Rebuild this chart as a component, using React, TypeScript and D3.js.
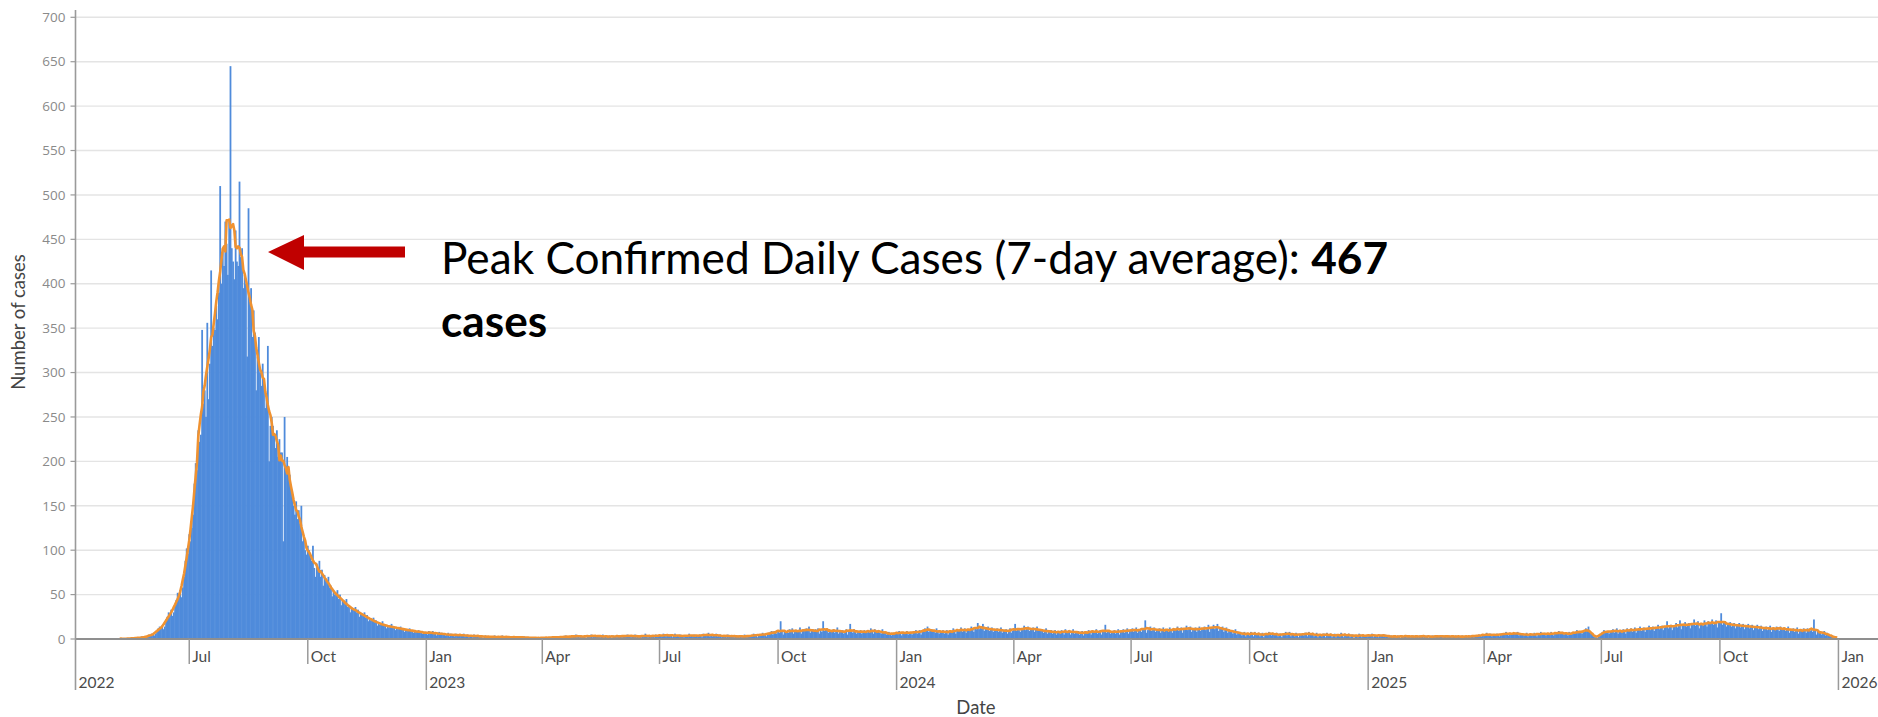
import React from "react";
import * as d3 from "d3";

// ---- Data (daily confirmed cases) ----
// Daily counts starting 2022-05-08
const cases2022 = [
  0,1,0,0,1,0,0,
  0,1,1,0,2,1,0,
  1,2,1,3,2,1,2,
  2,3,5,4,6,5,4,
  6,9,12,14,13,15,11,
  14,22,25,30,28,33,26,
  30,38,44,52,48,55,47,
  58,70,88,102,96,118,110,
  125,140,175,198,190,235,222,
  230,348,265,280,250,356,270,
  310,415,330,350,348,375,360,
  390,510,400,440,420,470,445,
  410,470,645,440,425,405,460,
  425,420,515,430,440,395,410,
  400,318,485,380,395,340,370,
  345,280,318,340,300,285,310,
  290,260,275,330,200,240,250,
  240,230,215,235,205,225,210,
  210,110,250,195,205,190,185,
  170,160,150,140,155,135,145,
  130,150,110,115,100,95,105,
  100,92,88,105,80,70,85,
  80,88,70,78,60,72,68,
  65,70,58,60,48,55,50,
  52,55,45,50,38,44,42,
  42,45,36,38,30,35,34,
  34,36,30,33,25,29,27,
  28,30,24,27,20,23,21,
  22,24,19,21,15,18,16,
  18,20,15,16,12,15,13,
  15,17,13,14,10,13,11,
  13,14,11,12,8,11,9,
  11,12,9,10,7,9,8,
  9,10,7,9,6,8,6,
];
// Daily counts starting 2023-01-01
const cases2023 = [
  8,5,9,7,6,9,6,
  7,4,6,8,5,7,5,
  6,4,5,7,3,6,4,
  5,3,6,4,5,4,4,
  4,6,3,4,5,2,4,
  4,2,5,3,4,3,3,
  3,4,1,3,4,2,3,
  2,3,3,1,4,2,2,
  3,1,2,4,2,3,2,
  2,1,3,2,2,1,3,
  1,3,2,2,1,2,3,
  1,2,1,2,0,2,1,
  2,1,1,2,1,0,2,
  1,2,2,1,2,1,1,
  2,3,1,3,2,1,2,
  2,3,2,4,2,3,2,
  3,2,4,3,5,2,3,
  2,4,3,3,4,1,3,
  4,3,5,2,4,3,4,
  3,4,2,3,5,2,3,
  2,3,4,3,1,4,3,
  3,2,4,4,3,2,3,
  4,3,5,3,4,2,4,
  3,5,2,3,2,4,2,
  4,3,6,3,2,4,3,
  3,4,2,5,4,3,4,
  4,3,6,4,3,4,5,
  5,4,2,4,6,3,4,
  3,5,3,4,2,4,3,
  4,6,3,4,3,5,3,
  4,3,5,4,2,6,4,
  5,4,7,3,5,3,5,
  4,6,3,4,5,2,4,
  3,4,2,5,3,4,3,
  3,2,4,3,4,2,3,
  2,3,5,3,2,3,3,
  4,3,6,4,5,2,5,
  5,4,7,5,6,3,5,
  6,8,9,5,9,7,6,
  8,7,20,8,5,9,7,
  9,7,11,9,12,6,9,
  10,8,9,13,6,9,10,
  9,12,10,14,7,10,9,
  8,11,9,12,6,9,8,
  20,9,11,12,7,8,10,
  9,11,7,10,13,6,9,
  8,10,6,9,11,5,8,
  17,9,7,11,9,6,9,
  8,10,6,9,10,7,7,
  9,7,12,10,6,11,9,
  8,10,7,6,11,8,7,
  5,7,8,5,4,7,6,
  6,
];
// Daily counts starting 2024-01-01
const cases2024 = [
  6,8,9,7,4,8,7,
  7,9,5,8,8,5,7,
  8,10,6,9,10,5,8,
  9,12,10,14,8,10,11,
  10,8,7,12,9,6,9,
  8,10,6,9,10,5,8,
  9,7,12,10,6,11,9,
  10,13,8,11,12,7,10,
  11,9,14,12,8,13,11,
  18,11,14,12,17,9,12,
  11,14,9,12,13,8,11,
  10,12,8,11,13,7,10,
  9,11,6,10,12,7,9,
  11,17,9,12,10,8,11,
  12,15,10,13,14,9,12,
  11,13,8,12,14,9,11,
  9,11,7,10,12,6,9,
  8,10,6,9,10,5,8,
  8,6,10,9,5,11,8,
  8,10,5,9,11,6,8,
  7,9,5,8,9,4,7,
  8,6,10,9,5,10,8,
  8,11,6,9,10,5,8,
  9,16,7,10,8,6,9,
  8,10,6,9,11,5,8,
  9,11,7,10,12,6,9,
  10,12,8,11,13,7,10,
  10,8,12,11,21,7,10,
  11,14,9,12,13,8,11,
  10,12,7,11,13,8,10,
  10,8,13,11,7,12,10,
  11,14,9,12,13,7,11,
  12,15,10,13,14,8,12,
  11,13,8,12,14,9,11,
  12,14,10,13,16,8,12,
  13,16,11,14,17,9,13,
  12,14,8,12,13,7,11,
  9,10,6,9,11,5,8,
  6,8,4,7,8,3,6,
  6,4,8,7,3,8,6,
  5,7,3,6,7,2,5,
  6,5,8,7,4,7,5,
  5,7,3,6,6,2,5,
  6,8,4,7,8,3,6,
  5,3,7,6,2,6,5,
  6,4,7,7,3,8,6,
  5,7,3,5,7,2,5,
  5,3,6,6,2,7,5,
  4,6,2,5,6,2,4,
  5,3,7,5,2,6,5,
  4,6,2,5,5,1,4,
  4,2,6,5,2,5,4,
  4,3,
];
// Daily counts starting 2025-01-01
const cases2025 = [
  3,5,4,6,2,5,4,
  4,2,5,4,5,3,5,
  3,4,2,3,4,2,3,
  2,3,4,3,1,4,3,
  3,4,2,4,3,2,3,
  4,2,3,3,2,4,3,
  3,2,4,3,4,1,3,
  2,4,3,2,3,3,4,
  3,3,2,4,3,2,3,
  4,3,2,3,3,4,2,
  3,2,3,4,2,3,3,
  2,3,4,3,3,2,4,
  4,3,5,4,3,5,4,
  5,7,4,5,6,3,5,
  4,5,6,5,3,6,5,
  6,5,8,6,4,7,6,
  5,7,6,7,8,4,6,
  5,6,4,5,7,3,5,
  6,4,5,7,5,3,5,
  6,8,5,6,7,4,6,
  5,6,8,6,4,7,6,
  7,9,6,7,8,5,7,
  6,4,8,7,5,6,6,
  8,10,7,8,9,6,8,
  8,12,10,14,9,7,5,
  3,2,2,1,3,4,6,
  8,10,7,9,9,6,8,
  9,11,7,10,12,6,9,
  9,7,11,10,6,12,9,
  10,12,8,11,13,7,10,
  11,14,9,12,13,8,11,
  12,15,10,13,14,9,12,
  13,16,11,14,15,10,13,
  14,20,12,15,16,10,14,
  15,18,13,16,21,11,15,
  16,19,14,17,18,12,16,
  17,22,15,18,20,12,17,
  17,15,21,18,14,20,17,
  18,22,16,19,21,13,18,
  18,29,16,19,20,14,18,
  16,19,14,17,18,12,16,
  15,18,13,16,17,11,15,
  14,17,12,15,16,10,14,
  13,16,11,14,15,9,13,
  12,14,10,13,15,8,12,
  12,10,14,13,9,14,12,
  11,13,9,12,14,7,11,
  10,12,8,11,13,6,10,
  10,8,12,11,7,12,10,
  9,10,8,22,11,5,9,
  7,9,5,8,9,4,7,
  5,4,3,4,3,2,1,
  0,
];
const seriesStarts = [
  Date.UTC(2022, 4, 8),
  Date.UTC(2023, 0, 1),
  Date.UTC(2024, 0, 1),
  Date.UTC(2025, 0, 1),
];
const seriesValues = [cases2022, cases2023, cases2024, cases2025];

const yTicks = [0, 50, 100, 150, 200, 250, 300, 350, 400, 450, 500, 550, 600, 650, 700];
const annotationText = "Peak Confirmed Daily Cases (7-day average): ";
const annotationValue = "467";
const annotationUnit = "cases";
const yTitle = "Number of cases";
const xTitle = "Date";

const DAY = 86400000;

export default function App() {
  const W = 1878;
  const H = 717;
  const left = 75.5;
  const right = 1878;
  const y0 = 639;
  const y700 = 17.3;

  const daily: { t: number; v: number }[] = [];
  seriesValues.forEach((arr, k) => {
    arr.forEach((v, i) => daily.push({ t: seriesStarts[k] + i * DAY, v }));
  });

  const avg = daily.map((d, i) => {
    const lo = Math.max(0, i - 3);
    const hi = Math.min(daily.length - 1, i + 3);
    const m = d3.mean(daily.slice(lo, hi + 1), (e) => e.v) as number;
    return { t: d.t, v: m };
  });

  const x = d3
    .scaleUtc()
    .domain([Date.UTC(2022, 3, 3, 17), Date.UTC(2026, 0, 31, 17)])
    .range([left, right]);
  const y = d3.scaleLinear().domain([0, 700]).range([y0, y700]);

  const barW = x(DAY) - x(0);
  const line = d3
    .line<{ t: number; v: number }>()
    .x((d) => x(d.t))
    .y((d) => y(d.v))
    .curve(d3.curveLinear);

  const monthTicks = d3.utcMonth.every(3)!.range(new Date(Date.UTC(2022, 6, 1)), new Date(Date.UTC(2026, 0, 2)));
  const fmtMonth = d3.utcFormat("%b");
  const fmtYear = d3.utcFormat("%Y");

  const tickFont = "Lato, 'Open Sans', sans-serif";
  const axisGray = "#9a9a9a";
  const overlap = 0.5;

  return (
    <svg
      width={W}
      height={H}
      style={{ position: "absolute", left: 0, top: 0, background: "#fff" }}
    >
      {/* gridlines */}
      {yTicks.filter((v) => v > 0).map((v) => (
        <line key={"g" + v} x1={left} x2={right} y1={y(v)} y2={y(v)} stroke="#e4e4e4" strokeWidth={1.4} />
      ))}
      {/* y ticks and labels */}
      {yTicks.map((v) => (
        <g key={"yt" + v}>
          <line x1={left - 5} x2={left} y1={y(v)} y2={y(v)} stroke={axisGray} strokeWidth={1.2} />
          <text
            x={left - 10}
            y={y(v)}
            dy="0.35em"
            textAnchor="end"
            fontFamily="'Open Sans', Arial, sans-serif"
            fontSize={13.5}
            fill="#8a8a8a"
          >
            {v}
          </text>
        </g>
      ))}
      {/* bars */}
      <g fill="#4f8bdb">
        {daily.filter((d) => d.v > 0).map((d) => (
          <rect
            key={d.t}
            x={x(d.t) - barW / 2 - overlap / 2}
            width={barW + overlap}
            y={y(d.v)}
            height={y0 - y(d.v)}
          />
        ))}
      </g>
      {/* 7-day average */}
      <path d={line(avg) || ""} fill="none" stroke="#ef9231" strokeWidth={2.6} strokeLinejoin="round" />
      {/* axes */}
      <line x1={left} x2={right} y1={y0} y2={y0} stroke="#8f8f8f" strokeWidth={1.8} />
      <line x1={left} x2={left} y1={10} y2={690} stroke={axisGray} strokeWidth={1.6} />
      {/* x ticks */}
      {monthTicks.map((d) => {
        const isJan = d.getUTCMonth() === 0;
        const xp = x(d);
        return (
          <g key={"xt" + d.getTime()}>
            <line x1={xp} x2={xp} y1={y0} y2={isJan ? 690 : 664} stroke={axisGray} strokeWidth={1.5} />
            <text x={xp + 3} y={662} fontFamily={tickFont} fontSize={15.5} fill="#4a4a4a">
              {fmtMonth(d)}
            </text>
            {isJan && (
              <text x={xp + 3} y={688} fontFamily={tickFont} fontSize={15.5} fill="#4a4a4a">
                {fmtYear(d)}
              </text>
            )}
          </g>
        );
      })}
      <text x={left + 3} y={688} fontFamily={tickFont} fontSize={15.5} fill="#4a4a4a">
        {fmtYear(new Date(Date.UTC(2022, 0, 1)))}
      </text>
      {/* axis titles */}
      <text
        transform="translate(19,322) rotate(-90)"
        dy="0.35em"
        textAnchor="middle"
        fontFamily={tickFont}
        fontSize={18.5}
        fill="#444"
      >
        {yTitle}
      </text>
      <text x={976} y={708} dy="0.35em" textAnchor="middle" fontFamily={tickFont} fontSize={18.5} fill="#444">
        {xTitle}
      </text>
      {/* annotation */}
      <polygon
        points="268,252 304,235 304,246.5 405,246.5 405,257.5 304,257.5 304,270"
        fill="#c00000"
      />
      <text x={441} y={274} fontFamily={tickFont} fontSize={44.2} fill="#000">
        {annotationText}
        <tspan fontWeight="bold">{annotationValue}</tspan>
      </text>
      <text x={441} y={337} fontFamily={tickFont} fontSize={44.2} fontWeight="bold" fill="#000">
        {annotationUnit}
      </text>
    </svg>
  );
}
